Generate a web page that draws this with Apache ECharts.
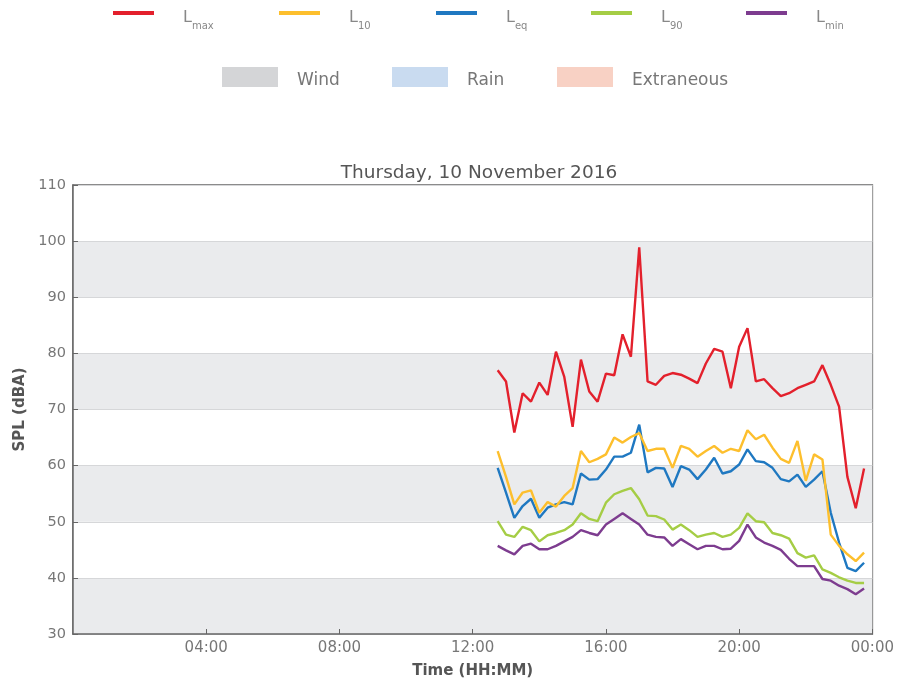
<!DOCTYPE html>
<html><head><meta charset="utf-8">
<script src="https://cdn.jsdelivr.net/npm/echarts@6/dist/echarts.min.js"></script>
<style>html,body{margin:0;padding:0;background:#fff}#c{width:897px;height:686px}</style>
</head><body><div id="c"></div>
<script>
const times = ["12:45","13:00","13:15","13:30","13:45","14:00","14:15","14:30","14:45","15:00","15:15","15:30","15:45","16:00","16:15","16:30","16:45","17:00","17:15","17:30","17:45","18:00","18:15","18:30","18:45","19:00","19:15","19:30","19:45","20:00","20:15","20:30","20:45","21:00","21:15","21:30","21:45","22:00","22:15","22:30","22:45","23:00","23:15","23:30","23:45"];
const Lmax = [77.0,75.0,65.9,72.9,71.4,74.8,72.6,80.3,75.8,66.9,78.9,73.2,71.4,76.4,76.1,83.4,79.4,98.9,75.0,74.4,76.0,76.5,76.2,75.5,74.7,78.2,80.8,80.3,73.8,81.2,84.5,75.0,75.4,73.8,72.4,72.9,73.8,74.4,75.0,77.9,74.4,70.5,58.0,52.4,59.5];
const L10 = [62.6,58.0,53.1,55.2,55.6,51.6,53.5,52.7,54.6,56.0,62.6,60.6,61.2,62.0,65.0,64.1,65.1,65.8,62.6,63.0,63.0,59.6,63.5,63.0,61.6,62.6,63.5,62.3,63.0,62.6,66.3,64.7,65.5,63.2,61.2,60.5,64.4,57.3,62.0,61.1,47.7,45.7,44.2,43.0,44.5];
const Leq = [59.6,55.2,50.7,52.8,54.1,50.7,52.5,53.1,53.5,53.1,58.6,57.5,57.6,59.3,61.6,61.6,62.3,67.3,58.8,59.6,59.5,56.2,59.9,59.3,57.6,59.3,61.4,58.6,59.0,60.2,62.9,60.8,60.6,59.6,57.6,57.2,58.4,56.2,57.5,59.0,51.6,46.3,41.8,41.2,42.7];
const L90 = [50.1,47.7,47.3,49.1,48.5,46.5,47.6,48.0,48.5,49.5,51.5,50.5,50.1,53.4,54.9,55.5,56.0,54.0,51.1,51.0,50.4,48.6,49.5,48.5,47.3,47.7,48.0,47.3,47.7,48.9,51.5,50.1,49.9,48.0,47.6,47.0,44.4,43.6,44.0,41.5,40.9,40.1,39.5,39.1,39.1];
const Lmin = [45.7,44.9,44.2,45.7,46.1,45.1,45.1,45.7,46.5,47.3,48.5,48.0,47.6,49.5,50.5,51.5,50.5,49.5,47.7,47.3,47.2,45.7,46.9,46.0,45.1,45.7,45.7,45.1,45.2,46.6,49.5,47.2,46.3,45.7,45.0,43.4,42.1,42.1,42.1,39.8,39.5,38.6,38.0,37.1,38.1];
const yTicks = [30,40,50,60,70,80,90,100,110];
const xTickHours = [0,4,8,12,16,20,24];
const title = "Thursday, 10 November 2016";

const lineNames = [["Lmax","L","max"],["L10","L","10"],["Leq","L","eq"],["L90","L","90"],["Lmin","L","min"]];
const lineData = [Lmax, L10, Leq, L90, Lmin];
const lineColors = ["#e3202c","#fdbf2d","#1f78c1","#a5cd45","#7d3c8f"];
const lineLegendLeft = [113, 279, 436, 591, 746];
const areaNames = ["Wind","Rain","Extraneous"];
const areaColors = ["#d4d5d7","#c9dbf0","#f8d1c4"];
const areaLegendLeft = [222, 392, 557];

const toH = t => { const [h,m] = t.split(":").map(Number); return h + m/60; };
const FONT = "DejaVu Sans";

const series = [];
lineNames.forEach((n,i) => {
  series.push({
    name: n[0], type: 'line', data: times.map((t,j) => [toH(t), lineData[i][j]]),
    showSymbol: false, symbol: 'none', lineStyle: {width: 2.4, color: lineColors[i]},
    itemStyle: {color: lineColors[i]}, z: 10 - i, animation: false
  });
});
areaNames.forEach((n,i) => {
  series.push({name: n, type: 'bar', data: [], itemStyle: {color: areaColors[i]}});
});

const legends = [];
lineNames.forEach((n,i) => {
  legends.push({
    data: [n[0]], left: lineLegendLeft[i], top: 7, padding: 0, icon: 'rect', itemWidth: 41, itemHeight: 4,
    formatter: () => '{sp|}{b|' + n[1] + '}{s|' + n[2] + '}',
    textStyle: {
      rich: {
        sp: {width: 24, height: 26},
        b: {fontSize: 16, color: '#888', fontFamily: FONT, height: 26, padding: [10, 0, 0, 0], verticalAlign: 'bottom'},
        s: {fontSize: 10, color: '#888', fontFamily: FONT, verticalAlign: 'bottom', padding: [0, 0, 0, 0]}
      }
    }
  });
});
areaNames.forEach((n,i) => {
  legends.push({
    data: [n], left: areaLegendLeft[i], top: 67, padding: 0, icon: 'rect', itemWidth: 56, itemHeight: 20,
    formatter: '{sp|}{b|{name}}',
    textStyle: {rich: {sp: {width: 14}, b: {fontSize: 17, color: '#777', fontFamily: FONT, padding: [8, 0, 0, 0]}}}
  });
});

const chart = echarts.init(document.getElementById('c'), null, {renderer: 'canvas'});
chart.setOption({
  animation: false,
  backgroundColor: '#fff',
  title: {text: title, left: 474, textAlign: 'center', top: 159,
    textStyle: {fontSize: 18.5, fontWeight: 'normal', color: '#555', fontFamily: FONT}},
  legend: legends,
  grid: {left: 73, right: 21, top: 185, bottom: 52, show: true, borderColor: '#666', borderWidth: 1.5, backgroundColor: 'transparent'},
  xAxis: {
    type: 'value', min: xTickHours[0], max: xTickHours[xTickHours.length-1], interval: 4,
    name: 'Time (HH:MM)', nameLocation: 'middle', nameGap: 30,
    nameTextStyle: {fontSize: 15, fontWeight: 'bold', color: '#555', fontFamily: FONT},
    axisLine: {lineStyle: {color: '#666', width: 1.5}},
    axisTick: {inside: true, length: 5, lineStyle: {color: '#666'}},
    axisLabel: {showMinLabel: false, fontSize: 15, color: '#777', fontFamily: FONT, margin: 7,
      formatter: v => (xTickHours.includes(v) ? String(v % 24).padStart(2,'0') + ':00' : '')},
    splitLine: {show: false}
  },
  yAxis: {
    type: 'value', min: yTicks[0], max: yTicks[yTicks.length-1], interval: 10,
    name: 'SPL (dBA)', nameLocation: 'middle', nameGap: 44, nameRotate: 90,
    nameTextStyle: {fontSize: 15, fontWeight: 'bold', color: '#555', fontFamily: FONT},
    axisLine: {show: true, lineStyle: {color: '#666', width: 1.5}},
    axisTick: {show: true, inside: true, length: 5, lineStyle: {color: '#666'}},
    axisLabel: {fontSize: 14.5, color: '#777', fontFamily: FONT, margin: 7},
    splitLine: {show: true, lineStyle: {color: '#d6d7d9', width: 1.2}},
    splitArea: {show: true, areaStyle: {color: ['#eaebed', '#ffffff']}}
  },
  series: series
});
</script></body></html>
